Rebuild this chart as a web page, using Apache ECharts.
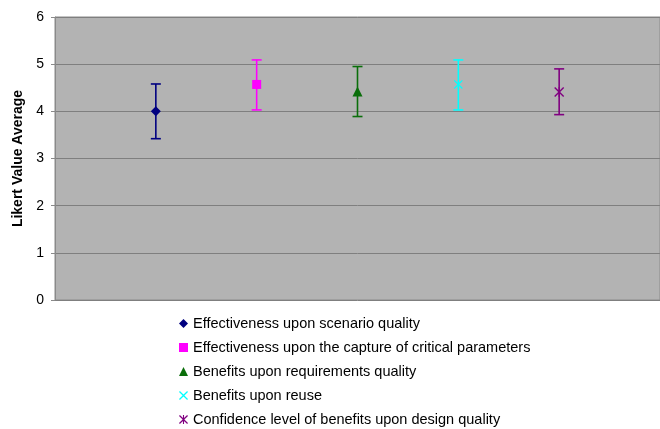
<!DOCTYPE html>
<html>
<head>
<meta charset="utf-8">
<script src="https://cdn.jsdelivr.net/npm/echarts@6/dist/echarts.min.js"></script>
<style>
  html, body { margin: 0; padding: 0; background: #fff; }
  #chart { width: 660px; height: 429px; }
</style>
</head>
<body>
<div id="chart"></div>
<script>
// series names (legend order)
const seriesNames = [
  'Effectiveness upon scenario quality',
  'Effectiveness upon the capture of critical parameters',
  'Benefits upon requirements quality',
  'Benefits upon reuse',
  'Confidence level of benefits upon design quality'
];
// x position of each series (one per slot)
const xPositions = [1, 2, 3, 4, 5];
// averages and error bar ends
const averages = [4.0, 4.57, 4.42, 4.57, 4.41];
const lowerEnds = [3.42, 4.03, 3.89, 4.03, 3.93];
const upperEnds = [4.58, 5.09, 4.95, 5.09, 4.90];
const yTicks = [0, 1, 2, 3, 4, 5, 6];

const colors = ['#000080', '#ff00ff', '#0a6e0a', '#00ffff', '#800080'];
const crossPath = 'path://M0,1 L1,0 L5,4 L9,0 L10,1 L6,5 L10,9 L9,10 L5,6 L1,10 L0,9 L4,5 Z';
const starPath = 'path://M0,1 L1,0 L5,4 L9,0 L10,1 L6,5 L10,9 L9,10 L5,6 L1,10 L0,9 L4,5 Z M4.4,0 L5.6,0 L5.6,10 L4.4,10 Z';
const symbols = ['diamond', 'rect', 'triangle', crossPath, starPath];
const symbolSizes = [10, 9, 10, 9, 10];

const chart = echarts.init(document.getElementById('chart'));

const series = [];
seriesNames.forEach((name, i) => {
  // error bar
  series.push({
    name: name + ' err',
    type: 'custom',
    data: [[xPositions[i], lowerEnds[i], upperEnds[i]]],
    renderItem: function (params, api) {
      const lo = api.coord([api.value(0), api.value(1)]);
      const hi = api.coord([api.value(0), api.value(2)]);
      const half = 5;
      const style = { stroke: colors[i], lineWidth: 1.6, fill: null };
      return {
        type: 'group',
        children: [
          { type: 'line', shape: { x1: lo[0], y1: lo[1], x2: hi[0], y2: hi[1] }, style: style },
          { type: 'line', shape: { x1: lo[0] - half, y1: lo[1], x2: lo[0] + half, y2: lo[1] }, style: style },
          { type: 'line', shape: { x1: hi[0] - half, y1: hi[1], x2: hi[0] + half, y2: hi[1] }, style: style }
        ]
      };
    },
    z: 2
  });
  // average marker
  series.push({
    name: name,
    type: 'scatter',
    data: [[xPositions[i], averages[i]]],
    symbol: symbols[i],
    symbolSize: symbolSizes[i],
    itemStyle: { color: colors[i], opacity: 1 },
    z: 3
  });
});

const option = {
  animation: false,
  backgroundColor: '#ffffff',
  textStyle: { fontFamily: 'Liberation Sans, Arial, sans-serif' },
  grid: {
    left: 55,
    right: 0,
    top: 17,
    bottom: 129,
    outerBoundsMode: 'none',
    show: true,
    backgroundColor: '#b3b3b3',
    borderColor: '#8a8a8a',
    borderWidth: 1
  },
  legend: {
    data: seriesNames,
    orient: 'vertical',
    left: 179,
    top: 315,
    padding: 0,
    itemGap: 7,
    itemWidth: 9,
    itemHeight: 9,
    textStyle: { fontSize: 14.5, lineHeight: 17, color: '#000', fontFamily: 'Liberation Sans, Arial, sans-serif' },
    selectedMode: false
  },
  xAxis: {
    type: 'value',
    min: 0,
    max: 6,
    show: false
  },
  yAxis: {
    type: 'value',
    min: yTicks[0],
    max: yTicks[yTicks.length - 1],
    interval: 1,
    name: 'Likert Value Average',
    nameLocation: 'middle',
    nameGap: 20,
    nameTextStyle: { fontSize: 14, fontWeight: 'bold', color: '#000' },
    axisLine: { show: true, lineStyle: { color: '#8a8a8a', width: 1 } },
    axisTick: { show: true, length: 4, lineStyle: { color: '#8a8a8a' } },
    axisLabel: { fontSize: 14, color: '#000', margin: 11 },
    splitLine: { show: true, lineStyle: { color: '#7f7f7f', width: 1 } }
  },
  series: series
};

option && chart.setOption(option);
</script>
</body>
</html>
